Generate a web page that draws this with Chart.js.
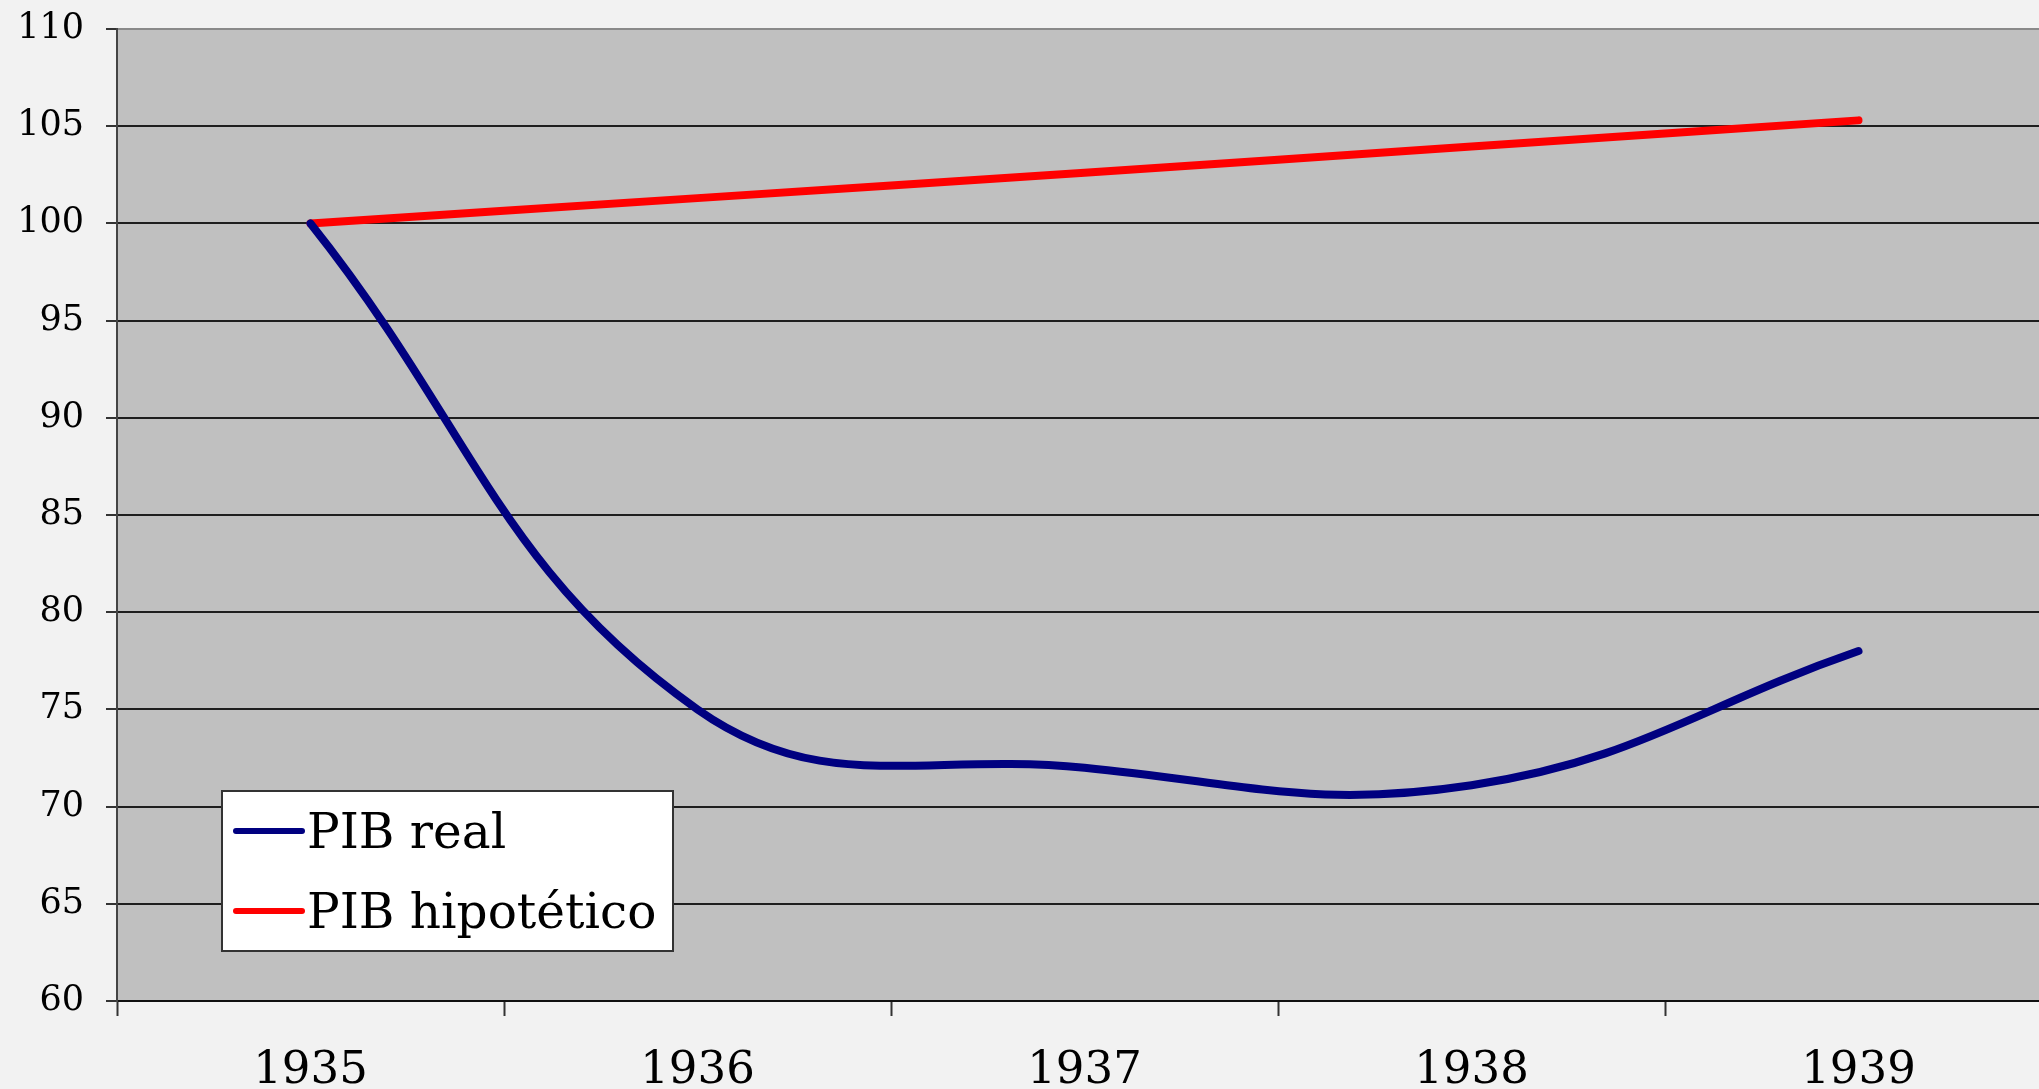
<!DOCTYPE html>
<html>
<head>
<meta charset="utf-8">
<script src="https://cdn.jsdelivr.net/npm/chart.js@4"></script>
<style>
  html, body { margin: 0; padding: 0; overflow: hidden; background: #f2f2f2; }
  #wrap { width: 2060px; height: 1089px; }
</style>
</head>
<body>
<div id="wrap"><canvas id="c" width="2060" height="1089"></canvas></div>
<script>
const years = ['1935', '1936', '1937', '1938', '1939'];
const pibReal = [100, 75, 72, 71.1, 78];
const pibHipotetico = [100, 101.3, 102.6, 103.95, 105.3];
const seriesNames = ['PIB real', 'PIB hipotético'];
const yTicks = [60, 65, 70, 75, 80, 85, 90, 95, 100, 105, 110];

const plotBg = {
  id: 'plotBg',
  beforeDraw(chart) {
    const { ctx, chartArea: a } = chart;
    ctx.save();
    ctx.fillStyle = '#c0c0c0';
    ctx.fillRect(a.left, a.top, a.right - a.left, a.bottom - a.top);
    ctx.restore();
  }
};

const boxLegend = {
  id: 'boxLegend',
  afterDraw(chart) {
    const { ctx, chartArea: a } = chart;
    const x0 = a.left + 105, y0 = a.top + 762, w = 451, h = 160;
    ctx.save();
    ctx.fillStyle = '#ffffff';
    ctx.fillRect(x0, y0, w, h);
    ctx.strokeStyle = '#333333';
    ctx.lineWidth = 2;
    ctx.strokeRect(x0, y0, w, h);
    ctx.font = '48.5px "DejaVu Serif"';
    ctx.textBaseline = 'alphabetic';
    ctx.textAlign = 'left';
    chart.data.datasets.forEach((ds, i) => {
      const ly = y0 + 40 + i * 80;
      ctx.strokeStyle = ds.borderColor;
      ctx.lineWidth = 6;
      ctx.lineCap = 'round';
      ctx.beginPath();
      ctx.moveTo(x0 + 14, ly);
      ctx.lineTo(x0 + 80, ly);
      ctx.stroke();
      ctx.fillStyle = '#000000';
      ctx.fillText(ds.label, x0 + 85, ly + 17);
    });
    ctx.restore();
  }
};

new Chart(document.getElementById('c'), {
  type: 'line',
  data: {
    labels: years,
    datasets: [
      {
        label: seriesNames[0],
        data: pibReal,
        borderColor: '#000080',
        borderWidth: 8,
        borderCapStyle: 'round',
        borderJoinStyle: 'round',
        tension: 0.42,
        pointRadius: 0,
        fill: false
      },
      {
        label: seriesNames[1],
        data: pibHipotetico,
        borderColor: '#ff0000',
        borderWidth: 8,
        borderCapStyle: 'round',
        borderJoinStyle: 'round',
        tension: 0.42,
        pointRadius: 0,
        fill: false
      }
    ]
  },
  options: {
    responsive: false,
    animation: false,
    devicePixelRatio: 1,
    layout: { autoPadding: false, padding: { top: 29, right: 8, left: 0, bottom: 0 } },
    plugins: {
      legend: { display: false },
      tooltip: { enabled: false }
    },
    scales: {
      x: {
        type: 'category',
        offset: true,
        grid: {
          offset: true,
          drawOnChartArea: false,
          drawTicks: true,
          tickLength: 15,
          tickColor: '#333333',
          tickWidth: 2
        },
        border: { display: true, color: '#111111', width: 2 },
        ticks: {
          color: '#000000',
          font: { family: 'DejaVu Serif', size: 45 },
          padding: 28,
          maxRotation: 0,
          autoSkip: false
        },
        afterFit(scale) {
          scale.height = 88;
          scale.paddingLeft = 0;
          scale.paddingRight = 0;
        }
      },
      y: {
        min: 60,
        max: 110,
        afterBuildTicks(scale) { scale.ticks = yTicks.map(v => ({ value: v })); },
        grid: {
          color: ctx => (ctx.tick && ctx.tick.value === 110) ? '#8a8a8a' : '#1e1e1e',
          lineWidth: 2,
          drawTicks: true,
          tickLength: 11,
          tickColor: '#333333',
          tickWidth: 2
        },
        border: { display: true, color: '#444444', width: 2 },
        ticks: {
          color: '#000000',
          font: { family: 'DejaVu Serif', size: 35 },
          padding: 22
        },
        afterFit(scale) {
          scale.width = 117;
          scale.paddingTop = 0;
          scale.paddingBottom = 0;
        }
      }
    }
  },
  plugins: [plotBg, boxLegend]
});
</script>
</body>
</html>
